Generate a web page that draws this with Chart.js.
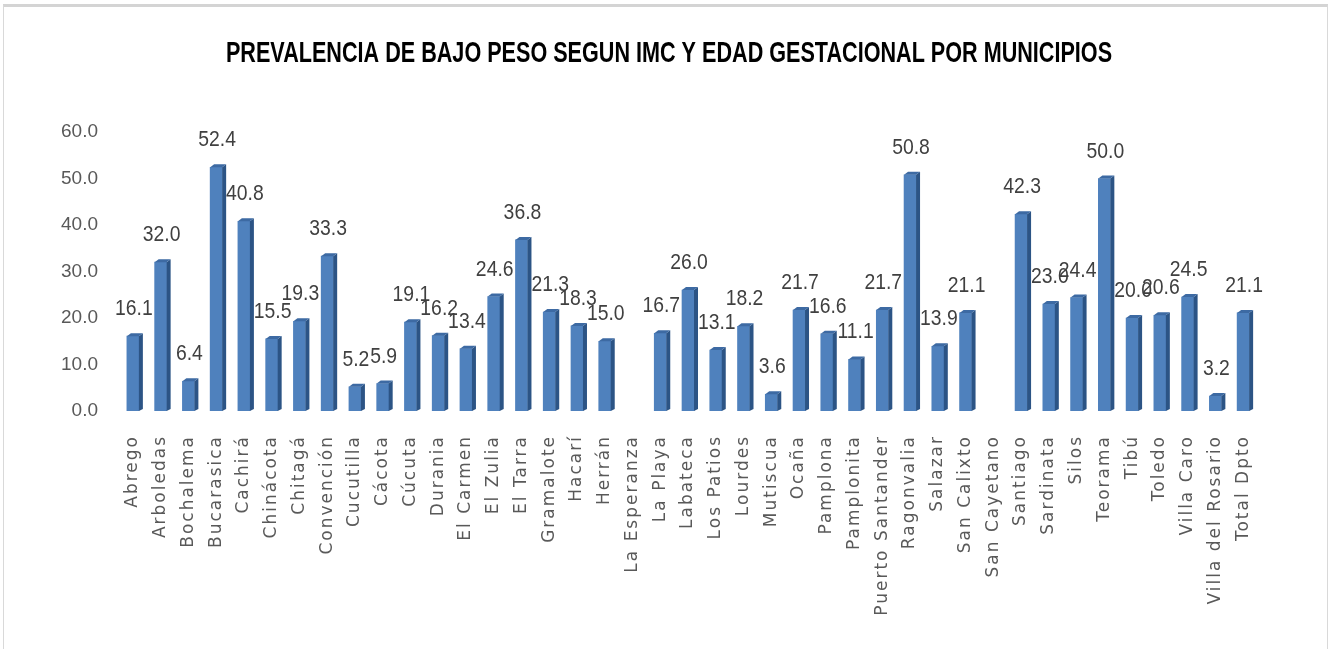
<!DOCTYPE html>
<html>
<head>
<meta charset="utf-8">
<script src="https://cdn.jsdelivr.net/npm/chart.js@4.4.1/dist/chart.umd.min.js"></script>
<style>
  html, body { margin: 0; padding: 0; background: #fff; }
  #wrap { position: absolute; left: 0; top: 0; width: 1337px; height: 649px; }
  #marco { position: absolute; left: 3px; top: 4px; width: 1323px; height: 660px;
           border-top: 3px solid #d4d4d4; border-left: 1px solid #d9d9d9; border-right: 1px solid #d9d9d9;
           pointer-events: none; }
</style>
</head>
<body>
<div id="wrap"><canvas id="grafico"></canvas></div>
<div id="marco"></div>
<script>
// municipios y prevalencia (%)
let municipios = ["Abrego", "Arboledas", "Bochalema", "Bucarasica", "Cachirá", "Chinácota", "Chitagá",
  "Convención", "Cucutilla", "Cácota", "Cúcuta", "Durania", "El Carmen", "El Zulia", "El Tarra",
  "Gramalote", "Hacarí", "Herrán", "La Esperanza", "La Playa", "Labateca", "Los Patios", "Lourdes",
  "Mutiscua", "Ocaña", "Pamplona", "Pamplonita", "Puerto Santander", "Ragonvalia", "Salazar",
  "San Calixto", "San Cayetano", "Santiago", "Sardinata", "Silos", "Teorama", "Tibú", "Toledo",
  "Villa Caro", "Villa del Rosario", "Total Dpto"];

let prevalencia = [16.1, 32.0, 6.4, 52.4, 40.8, 15.5, 19.3, 33.3, 5.2, 5.9, 19.1, 16.2, 13.4, 24.6, 36.8,
  21.3, 18.3, 15.0, null, 16.7, 26.0, 13.1, 18.2, 3.6, 21.7, 16.6, 11.1, 21.7, 50.8, 13.9,
  21.1, null, 42.3, 23.0, 24.4, 50.0, 20.0, 20.6, 24.5, 3.2, 21.1];

let ticksY = [0, 10, 20, 30, 40, 50, 60];

let titulo = "PREVALENCIA DE BAJO PESO SEGUN IMC Y EDAD GESTACIONAL POR MUNICIPIOS";

// titulo en letra angosta (no hay fuente condensada instalada)
const tituloAngosto = {
  id: "tituloAngosto",
  afterDraw(chart) {
    let ctx = chart.ctx;
    ctx.save();
    ctx.font = "bold 30px 'Liberation Sans', sans-serif";
    ctx.fillStyle = "#000";
    ctx.textAlign = "center";
    ctx.textBaseline = "alphabetic";
    ctx.translate(669, 62);
    ctx.scale(0.72, 1);
    ctx.fillText(titulo, 0, 0);
    ctx.restore();
  }
};

// efecto 3d simple sobre cada barra + etiquetas de valor
const barras3d = {
  id: "barras3d",
  afterDatasetsDraw(chart) {
    let ctx = chart.ctx;
    let meta = chart.getDatasetMeta(0);
    let d = 4;
    ctx.save();
    meta.data.forEach((bar, i) => {
      if (prevalencia[i] == null) return;
      let izq = bar.x - bar.width / 2;
      let der = bar.x + bar.width / 2;
      ctx.fillStyle = "#2c5485";
      ctx.beginPath();
      ctx.moveTo(der, bar.y);
      ctx.lineTo(der + d, bar.y - d + 1);
      ctx.lineTo(der + d, bar.base - 2);
      ctx.lineTo(der, bar.base);
      ctx.closePath();
      ctx.fill();
      ctx.fillStyle = "#3d6aa3";
      ctx.beginPath();
      ctx.moveTo(izq, bar.y);
      ctx.lineTo(izq + d, bar.y - d + 1);
      ctx.lineTo(der + d, bar.y - d + 1);
      ctx.lineTo(der, bar.y);
      ctx.closePath();
      ctx.fill();
    });
    ctx.fillStyle = "#404040";
    ctx.textAlign = "center";
    ctx.textBaseline = "bottom";
    meta.data.forEach((bar, i) => {
      if (prevalencia[i] == null) return;
      ctx.save();
      ctx.translate(bar.x + 1, bar.y - 16);
      ctx.scale(0.88, 1);
      ctx.font = "22px 'Liberation Sans', sans-serif";
      ctx.fillText(prevalencia[i].toFixed(1), 0, 0);
      ctx.restore();
    });
    ctx.restore();
  }
};

new Chart(document.getElementById("grafico"), {
  type: "bar",
  data: {
    labels: municipios,
    datasets: [{
      data: prevalencia,
      backgroundColor: "#4f81bd",
      barThickness: 12,
      borderWidth: 0
    }]
  },
  options: {
    responsive: true,
    maintainAspectRatio: false,
    animation: false,
    layout: { padding: { left: 0, right: 80, top: 132, bottom: 0 } },
    plugins: {
      legend: { display: false },
      tooltip: { enabled: false },
      title: { display: false }
    },
    scales: {
      x: {
        grid: { display: false },
        border: { display: false },
        ticks: {
          color: "#595959",
          font: { family: "'DejaVu Sans', sans-serif", size: 17 },
          maxRotation: 90,
          minRotation: 90,
          autoSkip: false,
          padding: 16
        },
        afterFit: s => {
          s.height = 238;
          // letras espaciadas como en el original
          if (!s._espaciado) {
            let orig = s.drawLabels.bind(s);
            s.drawLabels = function (area) {
              let prev = this.ctx.letterSpacing;
              this.ctx.letterSpacing = "2px";
              orig(area);
              this.ctx.letterSpacing = prev;
            };
            s._espaciado = true;
          }
        }
      },
      y: {
        min: 0,
        max: 60,
        grid: { display: false },
        border: { display: false },
        afterBuildTicks: s => { s.ticks = ticksY.map(v => ({ value: v })); },
        ticks: {
          color: "#595959",
          font: { family: "'Liberation Sans', sans-serif", size: 19 },
          padding: 13,
          callback: v => Number(v).toFixed(1)
        },
        afterFit: s => { s.width = 119; }
      }
    }
  },
  plugins: [barras3d, tituloAngosto]
});
</script>
</body>
</html>
